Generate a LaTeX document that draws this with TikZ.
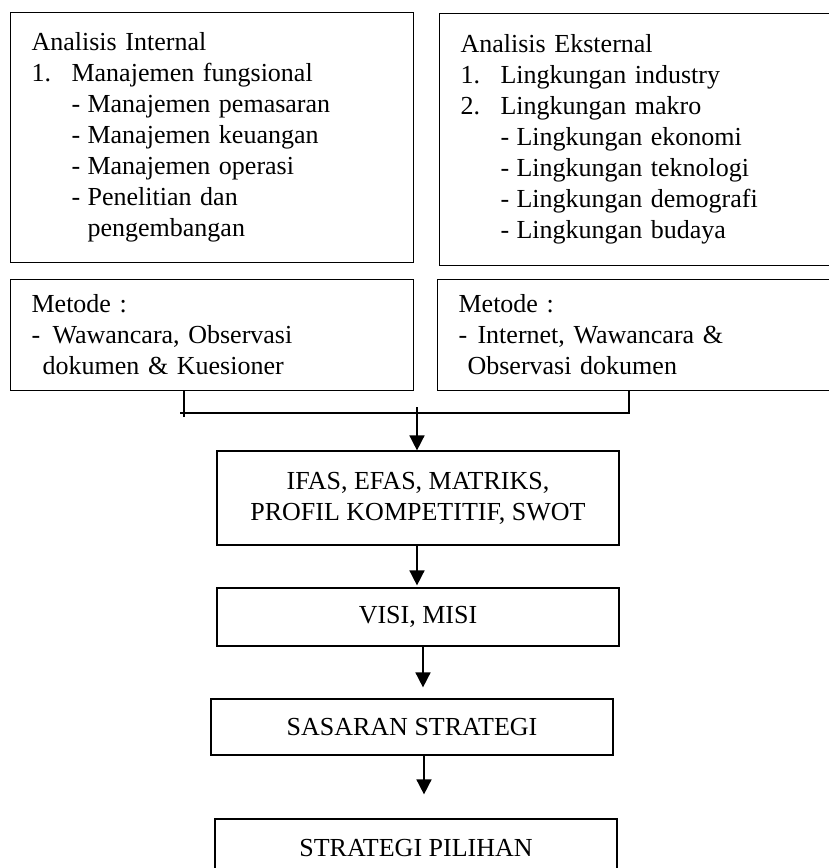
\documentclass[tikz,border=0pt]{standalone}
\usepackage{fontspec}
\setmainfont{Liberation Serif}
\usetikzlibrary{arrows.meta}

\newcommand{\nomor}[1]{\makebox[20pt][l]{#1}}
\newcommand{\butir}{\hspace*{20pt}\makebox[8pt][l]{-}}
\newcommand{\lanjut}{\hspace*{28pt}}

\begin{document}
\begin{tikzpicture}[x=0.5pt, y=-0.5pt, >={Triangle[width=7.5pt,length=7.5pt]}, line width=0.6pt]
		\tikzstyle{every node}=[font=\fontsize{13pt}{15.5pt}\selectfont]
		\tikzstyle{kotak}=[draw, rectangle, anchor=north west, align=left, inner xsep=10.5pt]
		\tikzstyle{tengah}=[draw, rectangle, align=center, minimum width=201pt]
		\useasboundingbox (0,0) rectangle (829,868);

		% analisis
		\draw (10,12) node[kotak, text width=180.5pt, minimum height=125pt] (internal) {Analisis Internal\\
			\nomor{1.}Manajemen fungsional\\
			\butir Manajemen pemasaran\\
			\butir Manajemen keuangan\\
			\butir Manajemen operasi\\
			\butir Penelitian dan\\
			\lanjut pengembangan};
		\draw (439,13) node[kotak, text width=189.5pt, minimum height=126pt] (eksternal) {Analisis Eksternal\\
			\nomor{1.}Lingkungan industry\\
			\nomor{2.}Lingkungan makro\\
			\butir Lingkungan ekonomi\\
			\butir Lingkungan teknologi\\
			\butir Lingkungan demografi\\
			\butir Lingkungan budaya};

		% metode
		\draw (10,279) node[kotak, text width=180.5pt, minimum height=55.5pt] (metodeA) {Metode :\\
			\makebox[10.5pt][l]{-}Wawancara, Observasi\\
			\hspace*{5.5pt}dokumen \& Kuesioner};
		\draw (437,279) node[kotak, text width=190.5pt, minimum height=55.5pt] (metodeB) {Metode :\\
			\makebox[9.5pt][l]{-}Internet, Wawancara \&\\
			\hspace*{4.5pt}Observasi dokumen};

		% alur
		\draw (418,498) node[tengah, minimum height=47pt] (ifas) {IFAS, EFAS, MATRIKS,\\ PROFIL KOMPETITIF, SWOT};
		\draw (418,617) node[tengah, minimum height=29pt] (visi) {VISI, MISI};
		\draw (412,727) node[tengah, minimum height=28pt] (sasaran) {SASARAN STRATEGI};
		\draw (416,848) node[tengah, minimum height=29pt] (pilihan) {STRATEGI PILIHAN};

		\coordinate (tickL) at (184,417);
		\coordinate (joinL) at (180,413);
		\coordinate (joinR) at (629,413);
		\coordinate (joinC) at (417,407);

		\draw[line width=0.8pt] (metodeA.south -| tickL) -- (tickL);
		\draw[line width=0.8pt] (metodeB.south -| joinR) -- (joinR) -- (joinL);
		\draw[->, line width=0.8pt] (joinC) -- (ifas.north -| joinC);
		\draw[->, line width=0.8pt, shorten >=1pt] (ifas.south -| joinC) -- (visi.north -| joinC);
		\draw[->, line width=0.8pt, shorten >=5.5pt] ([xshift=2.5pt]visi.south) -- ([xshift=2.5pt]visi.south |- sasaran.north);
		\draw[->, line width=0.8pt, shorten >=12pt] ([xshift=6pt]sasaran.south) -- ([xshift=6pt]sasaran.south |- pilihan.north);
	\end{tikzpicture}
\end{document}
